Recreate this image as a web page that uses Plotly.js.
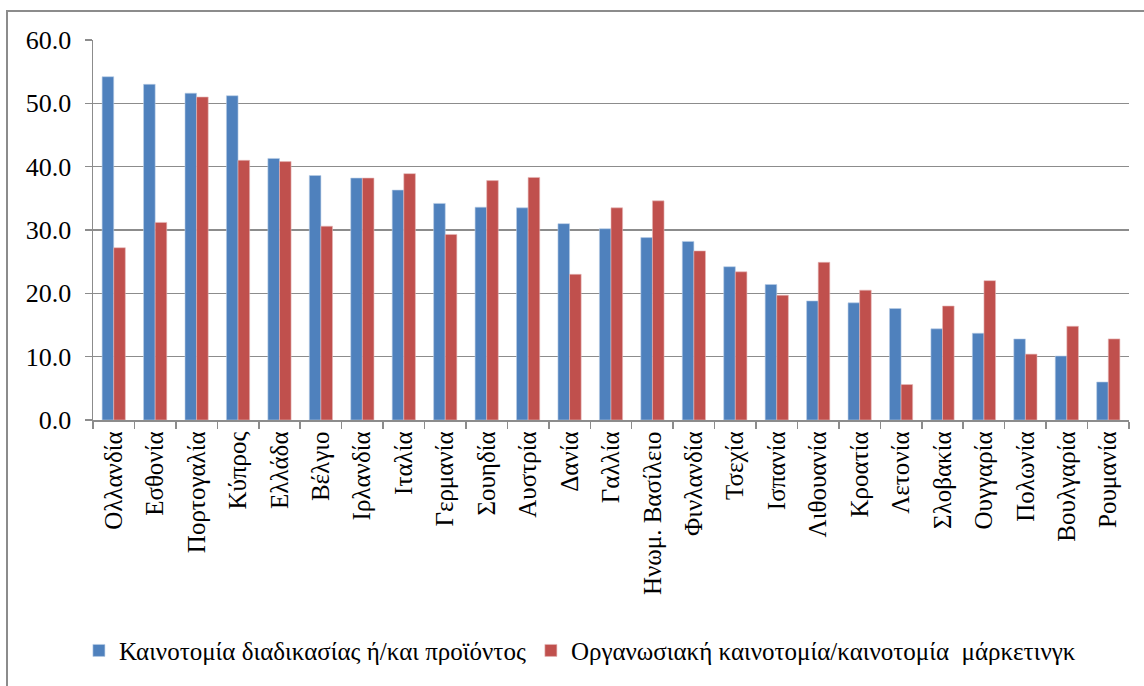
<!DOCTYPE html>
<html>
<head>
<meta charset="utf-8">
<script src="https://cdn.plot.ly/plotly-3.0.1.min.js"></script>
<style>
  html, body { margin: 0; padding: 0; background: #fff; overflow: hidden; }
  #wrap { position: relative; width: 1144px; height: 686px; }
  #chart { position: absolute; left: 0; top: 0; width: 1144px; height: 686px; }
  #frame { position: absolute; left: 6px; top: 10px; width: 1160px; height: 700px;
           border: 2px solid #8c8c8c; pointer-events: none; box-sizing: border-box; }
</style>
</head>
<body>
<div id="wrap">
  <div id="chart"></div>
  <div id="frame"></div>
</div>
<script>
const countries = ["Ολλανδία","Εσθονία","Πορτογαλία","Κύπρος","Ελλάδα","Βέλγιο","Ιρλανδία","Ιταλία","Γερμανία","Σουηδία","Αυστρία","Δανία","Γαλλία","Ηνωμ. Βασίλειο","Φινλανδία","Τσεχία","Ισπανία","Λιθουανία","Κροατία","Λετονία","Σλοβακία","Ουγγαρία","Πολωνία","Βουλγαρία","Ρουμανία"];
const processProduct = [54.2,53.0,51.6,51.2,41.3,38.6,38.2,36.3,34.2,33.6,33.5,31.0,30.2,28.8,28.2,24.2,21.4,18.8,18.5,17.6,14.4,13.7,12.8,10.1,6.0];
const orgMarketing = [27.2,31.2,51.0,41.0,40.8,30.6,38.2,38.9,29.3,37.8,38.3,23.0,33.5,34.6,26.7,23.4,19.7,24.9,20.5,5.6,18.0,22.0,10.4,14.8,12.8];
const seriesNames = ["Καινοτομία διαδικασίας ή/και προϊόντος","Οργανωσιακή καινοτομία/καινοτομία  μάρκετινγκ"];

const font = "Liberation Serif, Times New Roman, DejaVu Serif, serif";
const traces = [
  { type: "bar", x: countries, y: processProduct, name: seriesNames[0],
    marker: { color: "#4F81BD", line: { color: "#B9CDE5", width: 0.6 } } },
  { type: "bar", x: countries, y: orgMarketing, name: seriesNames[1],
    marker: { color: "#C0504D", line: { color: "#E6B9B8", width: 0.6 } } }
];
const layout = {
  width: 1144, height: 686,
  margin: { l: 93, r: 15, t: 40, b: 262 },
  paper_bgcolor: "rgba(0,0,0,0)", plot_bgcolor: "#fff",
  barmode: "group", bargap: 0.44, bargroupgap: 0,
  font: { family: font, color: "#000", size: 22 },
  showlegend: true,
  legend: { orientation: "h", x: 0.47, xanchor: "center", y: -0.607, yanchor: "middle",
            font: { family: font, size: 25 }, itemwidth: 30, tracegroupgap: 0 },
  xaxis: {
    type: "category", tickangle: -90, tickson: "boundaries", ticks: "outside", ticklen: 7,
    tickcolor: "#8c8c8c", tickwidth: 1.5, showline: true, linecolor: "#8c8c8c", linewidth: 1.5,
    showgrid: false, tickfont: { family: font, size: 25 }
  },
  yaxis: {
    range: [0, 60], dtick: 10, tickformat: ".1f", ticks: "outside", ticklen: 7,
    tickcolor: "#8c8c8c", tickwidth: 1.5, showline: true, linecolor: "#8c8c8c", linewidth: 1.5,
    showgrid: true, gridcolor: "#8c8c8c", gridwidth: 1.6, zeroline: false,
    tickfont: { family: font, size: 26 }, ticklabelstandoff: 8
  }
};
Plotly.newPlot("chart", traces, layout, { staticPlot: true, displayModeBar: false });
</script>
</body>
</html>
